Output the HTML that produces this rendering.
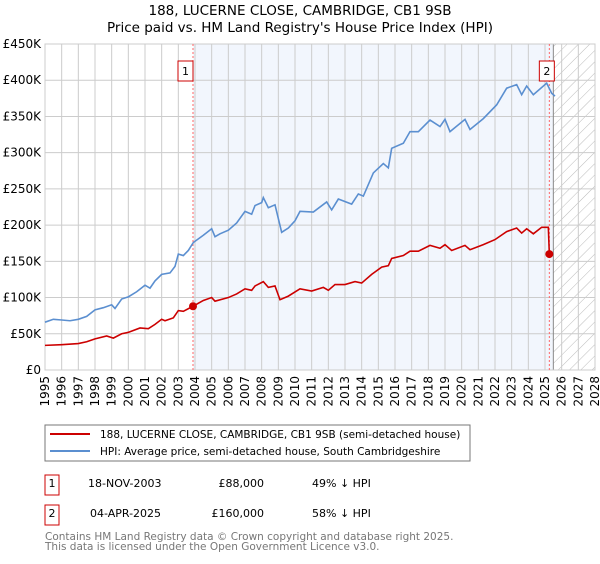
<!DOCTYPE html>
<html><head><meta charset="utf-8"><style>
body{margin:0;background:#fff;font-family:"DejaVu Sans","Liberation Sans",sans-serif;}
svg text{font-family:"DejaVu Sans","Liberation Sans",sans-serif;}
</style></head><body>
<svg id="c" width="600" height="560" xmlns="http://www.w3.org/2000/svg">
<defs><pattern id="hatch" width="8" height="8" patternUnits="userSpaceOnUse" patternTransform="rotate(45)"><line x1="0" y1="0" x2="0" y2="8" stroke="#bbb" stroke-width="1"/></pattern></defs>
<text x="300" y="15" text-anchor="middle" font-size="13.5">188, LUCERNE CLOSE, CAMBRIDGE, CB1 9SB</text>
<text x="300" y="32" text-anchor="middle" font-size="13.5">Price paid vs. HM Land Registry's House Price Index (HPI)</text>
<g id="plot"></g>
<rect x="45" y="425" width="425" height="36" fill="#fff" stroke="#777"/>
<line x1="50" y1="434" x2="90" y2="434" stroke="#cc0000" stroke-width="2"/>
<text x="100" y="438" font-size="10.5">188, LUCERNE CLOSE, CAMBRIDGE, CB1 9SB (semi-detached house)</text>
<line x1="50" y1="451" x2="90" y2="451" stroke="#5b8fd0" stroke-width="2"/>
<text x="100" y="455" font-size="10.5">HPI: Average price, semi-detached house, South Cambridgeshire</text>
<g font-size="11">
<rect x="45" y="475" width="14" height="20" fill="#fff" stroke="#cc0000"/>
<text x="52" y="487" text-anchor="middle">1</text>
<text x="88" y="487">18-NOV-2003</text>
<text x="264" y="487" text-anchor="end">£88,000</text>
<text x="312" y="487">49% ↓ HPI</text>
<rect x="45" y="505" width="14" height="20" fill="#fff" stroke="#cc0000"/>
<text x="52" y="517" text-anchor="middle">2</text>
<text x="90" y="517">04-APR-2025</text>
<text x="264" y="517" text-anchor="end">£160,000</text>
<text x="312" y="517">58% ↓ HPI</text>
</g>
<text x="45" y="540" font-size="10.5" fill="#777">Contains HM Land Registry data © Crown copyright and database right 2025.</text>
<text x="45" y="550" font-size="10.5" fill="#777">This data is licensed under the Open Government Licence v3.0.</text>
</svg>
<script>
const hpiYears=[1995,1995.5,1996,1996.5,1997,1997.5,1998,1998.5,1999,1999.2,1999.6,2000,2000.5,2001,2001.3,2001.6,2002,2002.5,2002.8,2003,2003.3,2003.6,2003.9,2004.5,2005,2005.2,2005.5,2006,2006.5,2007,2007.4,2007.6,2008,2008.1,2008.4,2008.8,2009.2,2009.6,2010,2010.3,2011.1,2011.9,2012.2,2012.6,2013.4,2013.8,2014.1,2014.7,2015.3,2015.6,2015.8,2016.5,2016.9,2017.4,2018.1,2018.7,2019.0,2019.3,2020.2,2020.5,2021.3,2022.1,2022.7,2023.3,2023.6,2023.9,2024.3,2025.1,2025.4,2025.6];
const hpiValues=[66,70,69,68,70,74,83,86,90,85,98,101,108,117,113,123,132,134,143,160,158,165,176,186,195,184,188,193,203,219,215,227,231,238,224,228,190,196,206,219,218,232,221,236,229,243,240,272,285,279,306,313,329,329,345,336,346,329,346,332,347,366,389,394,380,392,380,396,382,378];
const priceYears=[1995,1996,1997,1997.5,1998,1998.7,1999.1,1999.6,2000,2000.7,2001.2,2001.6,2002,2002.2,2002.7,2003,2003.3,2003.88,2004.5,2005,2005.2,2006,2006.5,2007,2007.4,2007.6,2008.1,2008.4,2008.8,2009.1,2009.6,2010.3,2011,2011.7,2012,2012.4,2013,2013.6,2014,2014.6,2015.2,2015.6,2015.8,2016.5,2016.9,2017.4,2018.1,2018.7,2019,2019.4,2020.2,2020.5,2021.3,2022,2022.7,2023.3,2023.6,2023.9,2024.3,2024.8,2025.2,2025.26];
const priceValues=[34,35,36.5,39,43,47,44,50,52,58,57,63,70,68,72,82,81,88,96,100,95,100,105,112,110,116,122,114,116,97,102,112,109,114,110,118,118,122,120,132,142,144,154,158,164,164,172,168,173,165,172,166,173,180,191,196,189,195,188,197,197,160];
const saleYears=[2003.88,2025.26];
const saleValues=[88,160];
const saleLabels=["1","2"];
const yTicks=[0,50,100,150,200,250,300,350,400,450];
const yTickLabels=["£0","£50K","£100K","£150K","£200K","£250K","£300K","£350K","£400K","£450K"];
const xTicks=[1995,1996,1997,1998,1999,2000,2001,2002,2003,2004,2005,2006,2007,2008,2009,2010,2011,2012,2013,2014,2015,2016,2017,2018,2019,2020,2021,2022,2023,2024,2025,2026,2027,2028];
const dataEndYear=2025.5;

const X0=45,X1=595,Y0=370,Y1=44;
const xs=y=>X0+(y-1995)/(2028-1995)*(X1-X0);
const ys=v=>Y0-v/450*(Y0-Y1);
const NS="http://www.w3.org/2000/svg";
const g=document.getElementById('plot');
function mk(tag,attrs,parent){const e=document.createElementNS(NS,tag);for(const k in attrs)e.setAttribute(k,attrs[k]);(parent||g).appendChild(e);return e;}

let e=mk('rect',{x:X0,y:Y1,width:X1-X0,height:Y0-Y1,fill:'#fff'});


e=mk('rect',{x:xs(saleYears[0]),y:Y1,width:xs(dataEndYear)-xs(saleYears[0]),height:Y0-Y1,fill:'#f2f6fd'});


e=mk('rect',{x:xs(dataEndYear),y:Y1,width:X1-xs(dataEndYear),height:Y0-Y1,fill:'url(#hatch)'});



yTicks.forEach((t,i)=>{
  const l=mk('line',{x1:X0,x2:X1,y1:ys(t),y2:ys(t),stroke:'#ccc'});
  
  
  const tx=mk('text',{x:X0-4,y:ys(t)+4,'text-anchor':'end','font-size':12});
  tx.textContent=yTickLabels[i];
  
  
});
xTicks.forEach(t=>{
  const l=mk('line',{x1:xs(t),x2:xs(t),y1:Y1,y2:Y0,stroke:'#ccc'});
  
  
  const tx=mk('text',{x:0,y:0,'text-anchor':'end','font-size':12,transform:`translate(${xs(t)+4},${Y0+6}) rotate(-90)`});
  tx.textContent=t;
  
  
});
e=mk('line',{x1:xs(dataEndYear),x2:xs(dataEndYear),y1:Y1,y2:Y0,stroke:'#888'});


e=mk('rect',{x:X0,y:Y1,width:X1-X0,height:Y0-Y1,fill:'none',stroke:'#ccc'});



saleYears.forEach((y,i)=>{
  const l=mk('line',{x1:xs(y),x2:xs(y),y1:Y1,y2:Y0,stroke:'#f66','stroke-dasharray':'2,2'});
  
  
  const bx=i===0?xs(y)-15:xs(y)-10;
  const r=mk('rect',{x:bx,y:61,width:15,height:20,fill:'#fff',stroke:'#cc0000'});
  
  
  const tx=mk('text',{x:bx+7.5,y:75,'text-anchor':'middle','font-size':11});
  tx.textContent=saleLabels[i];
  
  
});

e=mk('polyline',{points:hpiYears.map((y,i)=>xs(y)+','+ys(hpiValues[i])).join(' '),fill:'none',stroke:'#5b8fd0','stroke-width':1.6});


e=mk('polyline',{points:priceYears.map((y,i)=>xs(y)+','+ys(priceValues[i])).join(' '),fill:'none',stroke:'#cc0000','stroke-width':1.6});


saleYears.forEach((y,i)=>{
  const c=mk('circle',{cx:xs(y),cy:ys(saleValues[i]),r:4,fill:'#cc0000'});
  
  
});
</script>
</body></html>
